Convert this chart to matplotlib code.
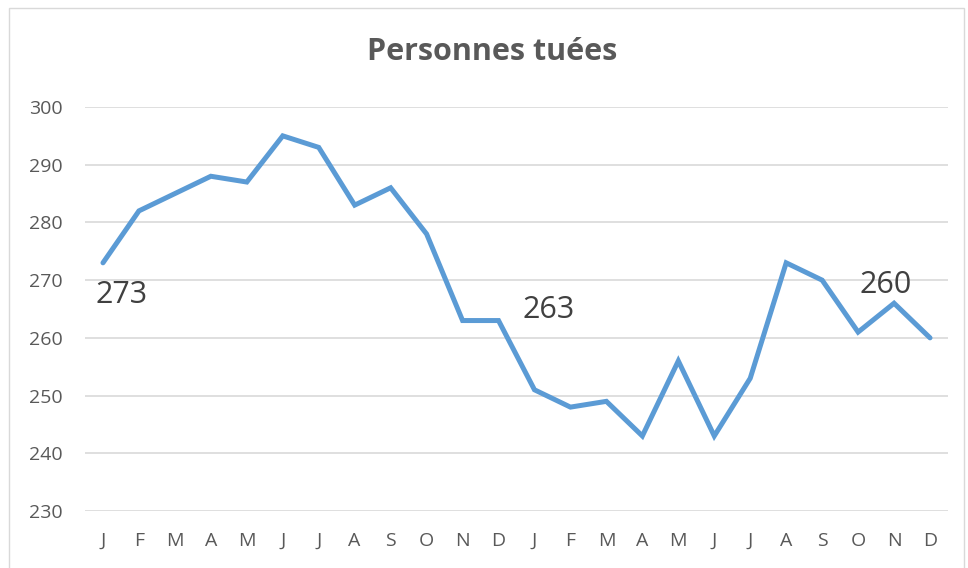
import matplotlib

matplotlib.use("Agg")

import matplotlib.pyplot as plt
from matplotlib.patches import Rectangle

MONTHS = ["J", "F", "M", "A", "M", "J", "J", "A", "S", "O", "N", "D"] * 2
KILLED = [273, 282, 285, 288, 287, 295, 293, 283, 286, 278, 263, 263,
          251, 248, 249, 243, 256, 243, 253, 273, 270, 261, 266, 260]
Y_TICKS = [230, 240, 250, 260, 270, 280, 290, 300]

# point index -> label offset in pixels
LABELS = {0: (19, -32), 11: (50, 11), 23: (-44, 53)}

TEXT_GREY = "#595959"
LINE_BLUE = "#5b9bd5"

plt.rcParams["font.family"] = ["Open Sans", "DejaVu Sans"]

fig = plt.figure(figsize=(9.68, 5.68), dpi=100)
fig.patches.append(Rectangle((9 / 968, -0.01), 955 / 968, 1 - 8 / 568 + 0.01,
                             transform=fig.transFigure, fill=False,
                             edgecolor="#d9d9d9", linewidth=1.0))
ax = fig.add_axes([85 / 968, 1 - 511 / 568, (948 - 85) / 968, (511 - 107) / 568])

x = list(range(len(KILLED)))
ax.plot(x, KILLED, color=LINE_BLUE, linewidth=3.6, solid_capstyle="round",
        solid_joinstyle="miter", zorder=3)

for idx, (dx, dy) in LABELS.items():
    ax.annotate(str(KILLED[idx]), (x[idx], KILLED[idx]), xytext=(dx, dy),
                textcoords="offset pixels", ha="center", va="center",
                fontsize=22, color="#404040")

ax.set_xlim(-0.5, len(KILLED) - 0.5)
ax.set_ylim(Y_TICKS[0], Y_TICKS[-1])
ax.set_yticks(Y_TICKS)
ax.set_xticks(x)
ax.set_xticklabels(MONTHS)
ax.tick_params(axis="both", length=0, labelsize=14, colors=TEXT_GREY)
ax.tick_params(axis="x", pad=15)
ax.tick_params(axis="y", pad=16)
ax.grid(axis="y", color="#d9d9d9", linewidth=1.2)
ax.set_axisbelow(True)
for spine in ax.spines.values():
    spine.set_visible(False)

fig.text(492 / 968, 1 - 52 / 568, "Personnes tuées", ha="center", va="center",
         fontsize=22, fontweight="bold", color=TEXT_GREY)

fig.savefig("out.png", dpi=100)
plt.close(fig)
